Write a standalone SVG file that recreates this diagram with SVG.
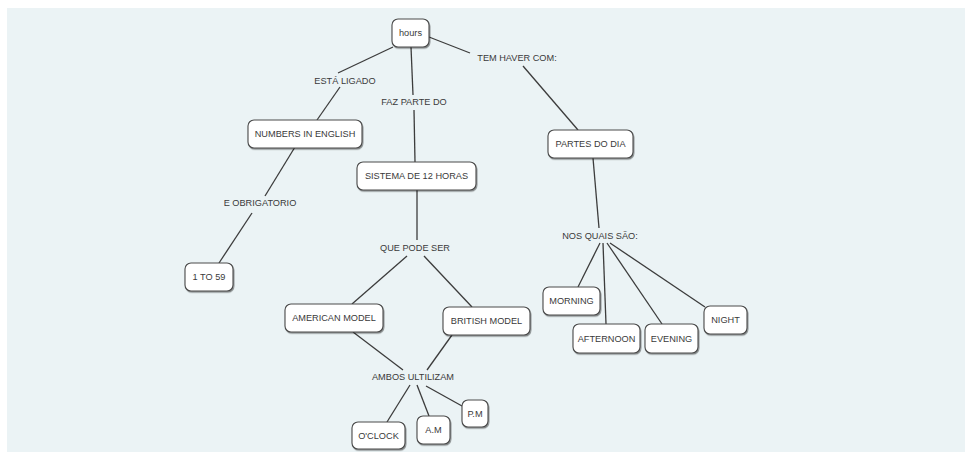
<svg xmlns="http://www.w3.org/2000/svg" width="972" height="459" viewBox="0 0 972 459">
<defs>
<filter id="sh" x="-10%" y="-20%" width="130%" height="150%"><feDropShadow dx="0.8" dy="1.2" stdDeviation="0.6" flood-color="#000" flood-opacity="0.45"/></filter>
</defs>
<style>
.bg{fill:#ebf3f5}
.node rect{fill:#ffffff;stroke:#4a4a4a;stroke-width:1.1;filter:url(#sh)}
text{font-family:"Liberation Sans",Arial,sans-serif;font-size:9.2px;fill:#3a3a3a;text-anchor:middle;dominant-baseline:central}
#connectors line{stroke:#3c3c3c;stroke-width:1.3;fill:none}
</style>
<rect x="0" y="0" width="972" height="459" fill="#ffffff"/>
<rect class="bg" x="7" y="8" width="958" height="444"/>
<g id="connectors">
<line x1="393" y1="47" x2="338" y2="73"/>
<line x1="340" y1="87" x2="317" y2="120"/>
<line x1="411" y1="47" x2="413" y2="95"/>
<line x1="414" y1="110" x2="415" y2="162"/>
<line x1="429" y1="37" x2="470" y2="53"/>
<line x1="523" y1="66" x2="578" y2="130"/>
<line x1="295" y1="147" x2="265" y2="196"/>
<line x1="252" y1="213" x2="219" y2="263"/>
<line x1="417" y1="190" x2="417" y2="240"/>
<line x1="407" y1="256" x2="352" y2="304"/>
<line x1="424" y1="256" x2="472" y2="307"/>
<line x1="353" y1="332" x2="403" y2="370"/>
<line x1="452" y1="335" x2="427" y2="370"/>
<line x1="410" y1="385" x2="387" y2="422"/>
<line x1="417" y1="385" x2="429" y2="416"/>
<line x1="426" y1="386" x2="462" y2="406"/>
<line x1="593" y1="158" x2="599" y2="228"/>
<line x1="600" y1="243" x2="578" y2="287"/>
<line x1="603" y1="243" x2="606" y2="324"/>
<line x1="607" y1="243" x2="662" y2="324"/>
<line x1="610" y1="243" x2="705" y2="307"/>
</g>
<g id="labels">
<text x="345" y="81">ESTÁ LIGADO</text>
<text x="414" y="102">FAZ PARTE DO</text>
<text x="517" y="58">TEM HAVER COM:</text>
<text x="260" y="203">E OBRIGATORIO</text>
<text x="415" y="248">QUE PODE SER</text>
<text x="413" y="377">AMBOS ULTILIZAM</text>
<text x="600" y="236">NOS QUAIS SÃO:</text>
</g>
<g id="n-hours" class="node"><rect x="392" y="19" width="37" height="28" rx="6"/><text x="410.5" y="33">hours</text></g>
<g id="n-numbers" class="node"><rect x="248" y="120" width="114" height="28" rx="6"/><text x="305" y="134">NUMBERS IN ENGLISH</text></g>
<g id="n-sistema" class="node"><rect x="357" y="162" width="119" height="28" rx="6"/><text x="416.5" y="176">SISTEMA DE 12 HORAS</text></g>
<g id="n-partes" class="node"><rect x="548" y="130" width="85" height="28" rx="6"/><text x="590.5" y="144">PARTES DO DIA</text></g>
<g id="n-1to59" class="node"><rect x="185" y="263" width="48" height="28" rx="6"/><text x="209" y="277">1 TO 59</text></g>
<g id="n-american" class="node"><rect x="285" y="304" width="98" height="28" rx="6"/><text x="334" y="318">AMERICAN MODEL</text></g>
<g id="n-british" class="node"><rect x="443" y="307" width="87" height="28" rx="6"/><text x="486.5" y="321">BRITISH MODEL</text></g>
<g id="n-oclock" class="node"><rect x="352" y="422" width="53" height="27" rx="6"/><text x="378.5" y="435.5">O'CLOCK</text></g>
<g id="n-am" class="node"><rect x="417" y="416" width="33" height="28" rx="6"/><text x="433.5" y="430">A.M</text></g>
<g id="n-pm" class="node"><rect x="462" y="400" width="26" height="27" rx="6"/><text x="475" y="413.5">P.M</text></g>
<g id="n-morning" class="node"><rect x="543" y="287" width="57" height="28" rx="6"/><text x="571.5" y="301">MORNING</text></g>
<g id="n-afternoon" class="node"><rect x="573" y="324" width="67" height="29" rx="6"/><text x="606.5" y="338.5">AFTERNOON</text></g>
<g id="n-evening" class="node"><rect x="645" y="324" width="53" height="29" rx="6"/><text x="671.5" y="338.5">EVENING</text></g>
<g id="n-night" class="node"><rect x="704" y="306" width="43" height="28" rx="6"/><text x="725.5" y="320">NIGHT</text></g>
</svg>
